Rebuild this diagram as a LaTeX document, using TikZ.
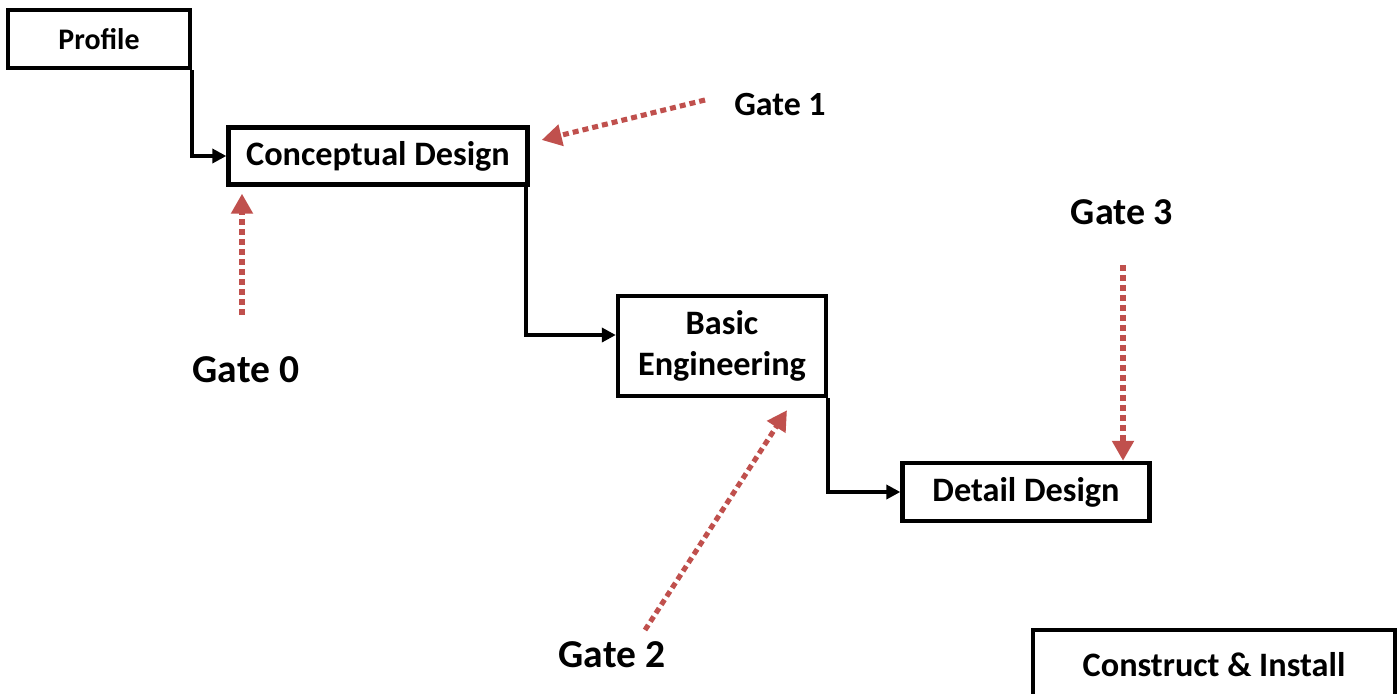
\documentclass[tikz,border=0pt]{standalone}
\usepackage{fontspec}
\setmainfont{Carlito}
\definecolor{gatered}{RGB}{192, 80, 77}
\usetikzlibrary{arrows.meta, positioning, calc}

\tikzset{
  stagebox/.style={draw=black, line width=2.5pt, fill=white, font=\bfseries\fontsize{19.5}{23}\selectfont, align=center, inner sep=2pt},
  flowline/.style={line width=2.1pt, -{Triangle[length=2.8mm, width=2.8mm]}},
  gatearrow/.style={gatered, line width=2.9pt, dash pattern=on 3.4pt off 2.3pt, -{Triangle[length=4mm, width=4.2mm]}},
  gatelabel/.style={font=\bfseries\fontsize{22.5}{26}\selectfont}
}

\begin{document}
\begin{tikzpicture}[x=0.02cm, y=-0.02cm]
  \useasboundingbox (0,0) rectangle (1398,693);
  \clip (0,0) rectangle (1398,693);

  % Stages
  \node[stagebox, minimum width=3.64cm, minimum height=1.16cm, font=\bfseries\fontsize{17}{20}\selectfont] (profile) at (99, 39) {Profile};
  \node[stagebox, minimum width=5.98cm, minimum height=1.14cm] (concept) at (378, 156) {Conceptual Design};
  \node[stagebox, minimum width=4.16cm, minimum height=2cm] (basic) at (722, 346) {Basic\\Engineering};
  \node[stagebox, minimum width=4.94cm, minimum height=1.16cm] (detail) at (1026, 492) {Detail Design};
  \node[stagebox, minimum width=7.24cm, minimum height=1.4cm] (construct) at (1214, 665) {Construct \& Install};

  % Flow
  \draw[flowline] (profile.south east) |- (concept.west);
  \draw[flowline] ([xshift=-0.08cm]concept.south east) |- ([yshift=0.22cm]basic.west);
  \draw[flowline] (basic.south east) |- (detail.west);

  % Gates
  \node[gatelabel] (gate0) at (246, 370) {Gate 0};
  \node[gatelabel, font=\bfseries\fontsize{19.3}{22}\selectfont] (gate1) at (780, 105) {Gate 1};
  \node[gatelabel] (gate2) at (612, 655) {Gate 2};
  \node[gatelabel, font=\bfseries\fontsize{21.6}{25}\selectfont] (gate3) at (1122, 212) {Gate 3};

  \coordinate (g0tail) at (242, 315);
  \coordinate (g1tail) at (705, 100);
  \coordinate (g2tail) at (645, 630);
  \coordinate (g3tail) at (1123, 265);

  \draw[gatearrow, shorten >=0.14cm] (g0tail) -- (g0tail |- concept.south);
  \draw[gatearrow] (g1tail) -- ([xshift=0.24cm, yshift=0.32cm]concept.east);
  \draw[gatearrow] (g2tail) -- ([xshift=1.3cm, yshift=-0.24cm]basic.south);
  \draw[gatearrow] (g3tail) -- (g3tail |- detail.north);
\end{tikzpicture}
\end{document}
